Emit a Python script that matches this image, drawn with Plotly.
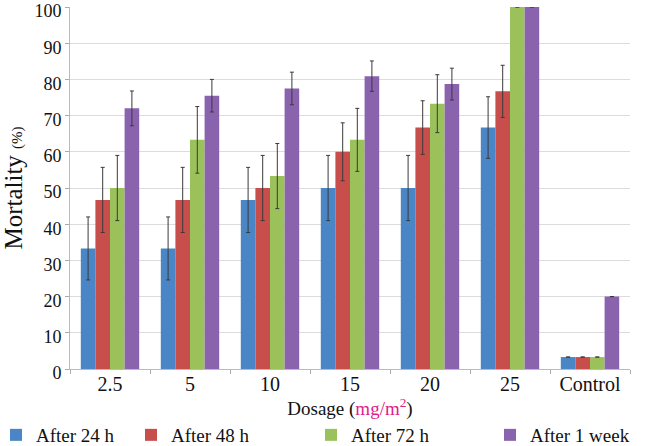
import plotly.graph_objects as go

categories = ["2.5", "5", "10", "15", "20", "25", "Control"]
series_names = ["After 24 h", "After 48 h", "After 72 h", "After 1 week"]
after_24h = [33.3, 33.3, 46.7, 50.0, 50.0, 66.7, 3.3]
after_48h = [46.7, 46.7, 50.0, 60.0, 66.7, 76.7, 3.3]
after_72h = [50.0, 63.3, 53.3, 63.3, 73.3, 100.0, 3.3]
after_1wk = [72.0, 75.5, 77.5, 80.9, 78.7, 100.0, 20.0]
err_24h = [8.7, 8.7, 9.0, 9.0, 9.0, 8.5, 0]
err_48h = [9.0, 9.0, 9.0, 8.0, 7.4, 7.2, 0]
err_72h = [9.0, 9.2, 9.0, 8.7, 8.0, 0, 0]
err_1wk = [4.8, 4.5, 4.5, 4.2, 4.4, 0, 0]
colors = ["#4a85c6", "#c84e4b", "#9bc25a", "#8963ad"]

values = [after_24h, after_48h, after_72h, after_1wk]
errors = [err_24h, err_48h, err_72h, err_1wk]
legend_ids = ["legend", "legend2", "legend3", "legend4"]
legend_x_px = [-4, 131, 311, 490]

font_family = "Liberation Serif"

fig = go.Figure()
for name, vals, errs, col, lid in zip(series_names, values, errors, colors, legend_ids):
    fig.add_trace(go.Bar(
        x=categories, y=vals, name=name, marker_color=col,
        marker_line_width=0, legend=lid,
        error_y=dict(type="data", array=errs, visible=True, color="#3a3a3a",
                     thickness=1, width=2),
    ))

L, R, T, B = 70, 16, 7, 77
pw = 646 - L - R
ph = 446 - T - B

layout_legends = {}
for lid, px in zip(legend_ids, legend_x_px):
    layout_legends[lid] = dict(
        x=(px - L) / pw, y=(369 - 435) / ph, xanchor="left", yanchor="middle",
        orientation="h", font=dict(family=font_family, size=19, color="#111"),
        bgcolor="rgba(0,0,0,0)", itemwidth=30, tracegroupgap=0,
    )

fig.update_layout(
    width=646, height=446,
    margin=dict(l=L, r=R, t=T, b=B, autoexpand=False),
    barmode="group", bargap=0.27, bargroupgap=0,
    plot_bgcolor="white", paper_bgcolor="white",
    font=dict(family=font_family, size=17, color="#111"),
    showlegend=True,
    **layout_legends,
)
fig.update_xaxes(
    automargin=False,
    tickson="boundaries", ticks="outside", ticklen=4, tickcolor="#aaa",
    ticklabelstandoff=-3,
    showline=True, linecolor="#bbb", linewidth=1,
    tickfont=dict(family=font_family, size=20),
    title=dict(text="Dosage (<span style='color:#e0218a'>mg/m<sup>2</sup></span>)",
               font=dict(family=font_family, size=19), standoff=3),
)
fig.update_yaxes(
    automargin=False,
    range=[0, 100], dtick=10, showgrid=True, gridcolor="#dcdcdc", gridwidth=1,
    showline=True, linecolor="#bbb", ticks="outside", ticklen=4, tickcolor="#aaa",
    ticklabeloverflow="allow", ticklabelshift=4,
    zeroline=False,
    tickfont=dict(family=font_family, size=18),
    title=dict(text="Mortality <span style='font-size:15px'>(%)</span>",
               font=dict(family=font_family, size=25), standoff=5),
)

fig.write_html("out.html",
               config={"displayModeBar": False},
               post_script="document.body.style.margin='0';document.body.style.padding='0';")
